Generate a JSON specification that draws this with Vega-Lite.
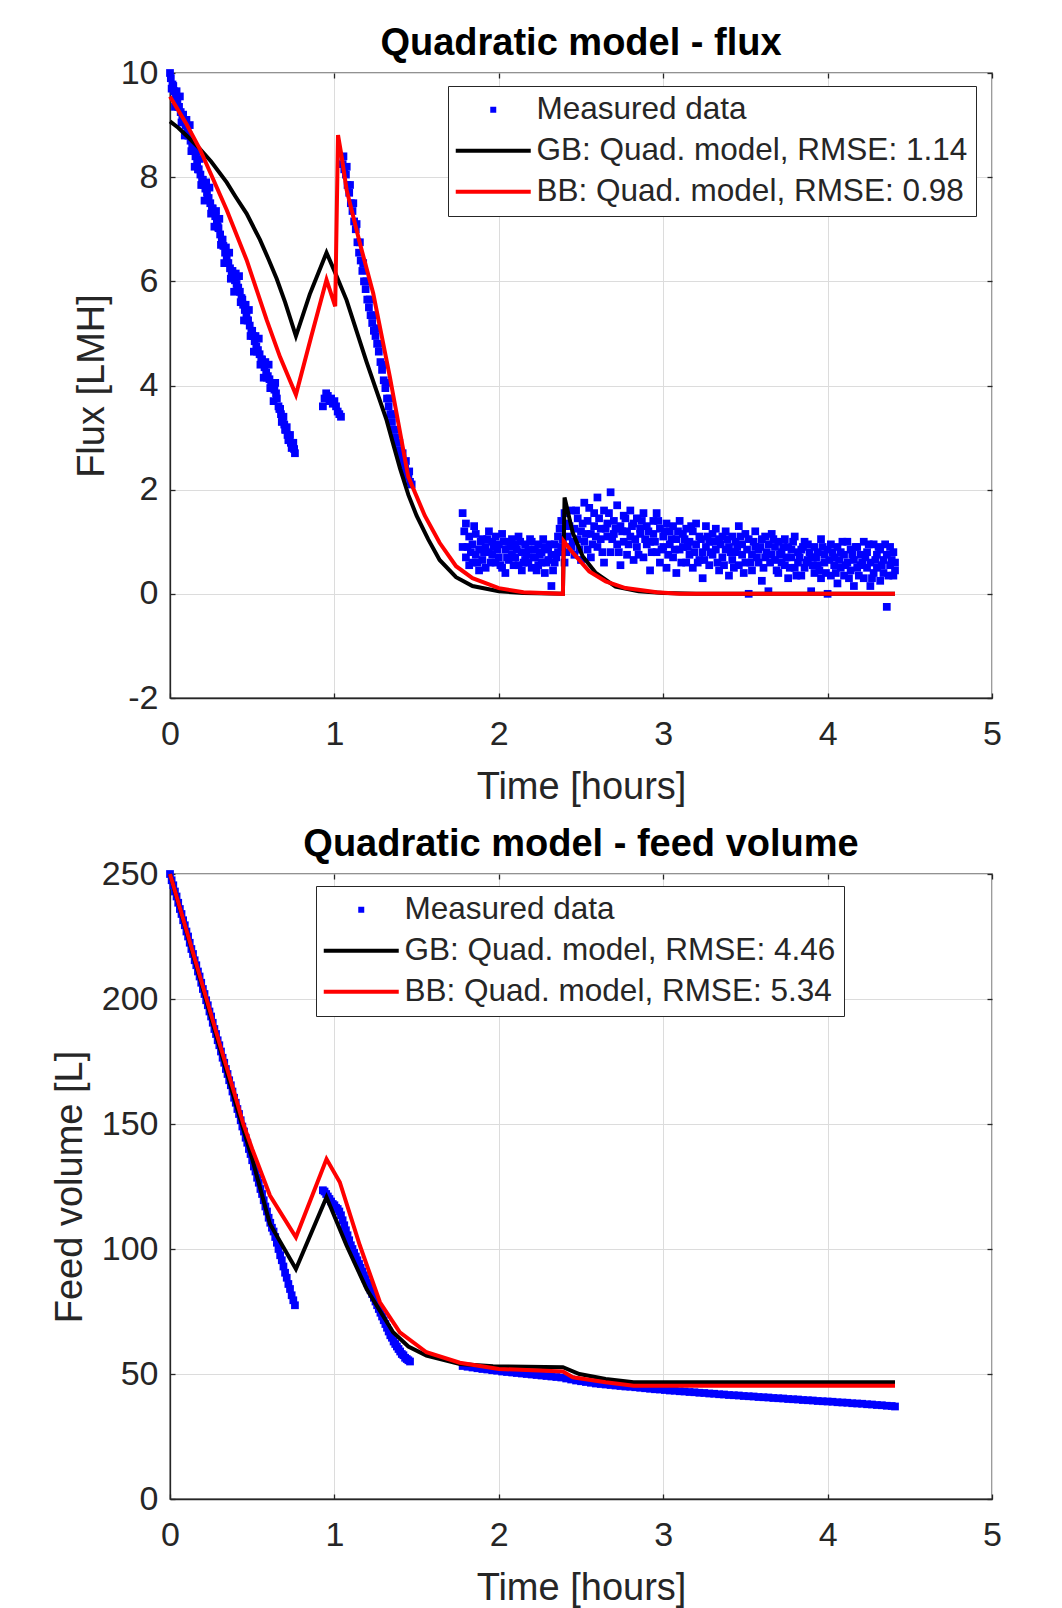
{
"$schema": "https://vega.github.io/schema/vega-lite/v6.json",
"padding": {"left": 50, "top": 24, "right": 50, "bottom": 0},
"autosize": {"type": "pad"},
"spacing": 18,
"config": {
  "font": "Liberation Sans",
  "view": {"stroke": "#262626", "strokeWidth": 1.3},
  "axis": {"labelFont": "Liberation Sans", "labelFontSize": 34, "labelColor": "#262626", "titleFont": "Liberation Sans", "titleFontSize": 38, "titleFontWeight": "normal", "titleColor": "#262626", "domainColor": "#262626", "domainWidth": 1.3, "tickColor": "#262626", "tickSize": -5, "tickWidth": 1.3, "gridColor": "#dcdcdc", "gridWidth": 1, "labelFlush": false, "labelExpr": "'' + datum.value"},
  "title": {"font": "Liberation Sans", "fontSize": 38, "fontWeight": "bold", "color": "#000000", "anchor": "middle", "offset": -7},
  "legend": {"labelFont": "Liberation Sans", "labelFontSize": 31.5, "labelColor": "#262626", "strokeColor": "#262626", "fillColor": "#ffffff", "padding": 8, "symbolSize": 5625, "labelOffset": 27.5, "symbolOffset": 21.5, "rowPadding": 8, "labelLimit": 1000}
},
"datasets": {
"flux_meas": [
{"t":0.00,"v":10.0},{"t":0.01,"v":9.7},{"t":0.02,"v":9.75},{"t":0.03,"v":9.35},{"t":0.04,"v":9.65},{"t":0.05,"v":9.35},{"t":0.06,"v":9.55},{"t":0.07,"v":9.05},{"t":0.08,"v":9.2},{"t":0.09,"v":8.8},
{"t":0.10,"v":9.1},{"t":0.11,"v":8.8},{"t":0.12,"v":9.0},{"t":0.13,"v":8.5},{"t":0.14,"v":8.6},{"t":0.15,"v":8.2},{"t":0.16,"v":8.5},{"t":0.17,"v":8.15},{"t":0.18,"v":8.35},{"t":0.19,"v":7.85},
{"t":0.20,"v":7.95},{"t":0.21,"v":7.55},{"t":0.22,"v":7.9},{"t":0.23,"v":7.6},{"t":0.24,"v":7.8},{"t":0.25,"v":7.3},{"t":0.26,"v":7.4},{"t":0.27,"v":7.05},{"t":0.28,"v":7.35},{"t":0.29,"v":7.05},
{"t":0.30,"v":7.2},{"t":0.31,"v":6.7},{"t":0.32,"v":6.8},{"t":0.33,"v":6.35},{"t":0.34,"v":6.65},{"t":0.35,"v":6.35},{"t":0.36,"v":6.55},{"t":0.37,"v":6.05},{"t":0.38,"v":6.2},{"t":0.39,"v":5.8},
{"t":0.40,"v":6.15},{"t":0.41,"v":5.85},{"t":0.42,"v":6.1},{"t":0.43,"v":5.6},{"t":0.44,"v":5.65},{"t":0.45,"v":5.25},{"t":0.46,"v":5.55},{"t":0.47,"v":5.25},{"t":0.48,"v":5.45},{"t":0.49,"v":4.95},
{"t":0.50,"v":5.05},{"t":0.51,"v":4.65},{"t":0.52,"v":4.95},{"t":0.53,"v":4.65},{"t":0.54,"v":4.9},{"t":0.55,"v":4.4},{"t":0.56,"v":4.5},{"t":0.57,"v":4.15},{"t":0.58,"v":4.45},{"t":0.59,"v":4.15},
{"t":0.60,"v":4.4},{"t":0.61,"v":3.95},{"t":0.62,"v":4.05},{"t":0.63,"v":3.7},{"t":0.64,"v":4.05},{"t":0.65,"v":3.75},{"t":0.66,"v":3.6},{"t":0.67,"v":3.55},{"t":0.68,"v":3.3},{"t":0.69,"v":3.4},
{"t":0.70,"v":3.15},{"t":0.71,"v":3.2},{"t":0.72,"v":2.95},{"t":0.73,"v":3.05},{"t":0.74,"v":2.8},{"t":0.75,"v":2.9},{"t":0.76,"v":2.7},
{"t":0.005,"v":9.9},{"t":0.015,"v":9.78},{"t":0.025,"v":9.65},{"t":0.035,"v":9.55},{"t":0.045,"v":9.45},{"t":0.055,"v":9.35},{"t":0.065,"v":9.25},{"t":0.075,"v":9.18},{"t":0.085,"v":9.1},{"t":0.095,"v":9.0},
{"t":0.105,"v":8.9},{"t":0.115,"v":8.8},{"t":0.125,"v":8.7},{"t":0.135,"v":8.6},{"t":0.145,"v":8.5},{"t":0.155,"v":8.4},{"t":0.165,"v":8.28},{"t":0.175,"v":8.15},{"t":0.185,"v":8.05},{"t":0.195,"v":7.95},
{"t":0.205,"v":7.85},{"t":0.215,"v":7.78},{"t":0.225,"v":7.7},{"t":0.235,"v":7.6},{"t":0.245,"v":7.5},{"t":0.255,"v":7.4},{"t":0.265,"v":7.32},{"t":0.275,"v":7.25},{"t":0.285,"v":7.15},{"t":0.295,"v":7.02},
{"t":0.305,"v":6.9},{"t":0.315,"v":6.8},{"t":0.325,"v":6.68},{"t":0.335,"v":6.55},{"t":0.345,"v":6.45},{"t":0.355,"v":6.35},{"t":0.365,"v":6.25},{"t":0.375,"v":6.18},{"t":0.385,"v":6.1},{"t":0.395,"v":6.02},
{"t":0.405,"v":5.95},{"t":0.415,"v":5.88},{"t":0.425,"v":5.8},{"t":0.435,"v":5.68},{"t":0.445,"v":5.55},{"t":0.455,"v":5.45},{"t":0.465,"v":5.35},{"t":0.475,"v":5.25},{"t":0.485,"v":5.15},{"t":0.495,"v":5.05},
{"t":0.505,"v":4.95},{"t":0.515,"v":4.85},{"t":0.525,"v":4.75},{"t":0.535,"v":4.68},{"t":0.545,"v":4.6},{"t":0.555,"v":4.5},{"t":0.565,"v":4.42},{"t":0.575,"v":4.35},{"t":0.585,"v":4.25},{"t":0.595,"v":4.18},
{"t":0.605,"v":4.12},{"t":0.615,"v":4.05},{"t":0.625,"v":3.98},{"t":0.635,"v":3.92},{"t":0.645,"v":3.85},{"t":0.665,"v":3.55},{"t":0.675,"v":3.45},{"t":0.685,"v":3.35},{"t":0.695,"v":3.25},{"t":0.705,"v":3.15},
{"t":0.715,"v":3.05},{"t":0.725,"v":2.98},{"t":0.735,"v":2.9},{"t":0.745,"v":2.82},{"t":0.755,"v":2.78},
{"t":0.93,"v":3.6},{"t":0.94,"v":3.75},{"t":0.95,"v":3.85},{"t":0.96,"v":3.8},{"t":0.97,"v":3.7},{"t":0.98,"v":3.75},{"t":0.99,"v":3.65},{"t":1.00,"v":3.7},{"t":1.01,"v":3.6},{"t":1.02,"v":3.5},{"t":1.03,"v":3.45},{"t":1.04,"v":3.4},
{"t":1.05,"v":8.25},{"t":1.06,"v":8.15},{"t":1.07,"v":8.05},{"t":1.08,"v":7.85},{"t":1.09,"v":7.7},{"t":1.10,"v":7.5},{"t":1.11,"v":7.35},{"t":1.12,"v":7.15},{"t":1.13,"v":7.0},{"t":1.14,"v":6.75},
{"t":1.15,"v":6.55},{"t":1.16,"v":6.4},{"t":1.17,"v":6.2},{"t":1.18,"v":6.0},{"t":1.19,"v":5.85},{"t":1.20,"v":5.65},{"t":1.21,"v":5.5},{"t":1.22,"v":5.35},{"t":1.23,"v":5.2},{"t":1.24,"v":5.05},
{"t":1.25,"v":4.95},{"t":1.26,"v":4.8},{"t":1.27,"v":4.65},{"t":1.28,"v":4.45},{"t":1.29,"v":4.3},{"t":1.30,"v":4.1},{"t":1.31,"v":3.95},{"t":1.32,"v":3.75},{"t":1.33,"v":3.6},{"t":1.34,"v":3.45},
{"t":1.35,"v":3.3},{"t":1.36,"v":3.15},{"t":1.37,"v":3.0},{"t":1.38,"v":2.9},{"t":1.39,"v":2.75},{"t":1.40,"v":2.65},{"t":1.41,"v":2.55},{"t":1.42,"v":2.5},{"t":1.43,"v":2.4},{"t":1.44,"v":2.3},{"t":1.45,"v":2.25},{"t":1.46,"v":2.15},{"t":1.47,"v":2.1},
{"t":1.055,"v":8.4},{"t":1.075,"v":8.2},{"t":1.095,"v":7.85},{"t":1.115,"v":7.5},{"t":1.135,"v":7.1},{"t":1.155,"v":6.75},{"t":1.175,"v":6.35},{"t":1.195,"v":6.0},{"t":1.215,"v":5.65},{"t":1.235,"v":5.35},
{"t":1.255,"v":5.1},{"t":1.275,"v":4.8},{"t":1.295,"v":4.4},{"t":1.315,"v":4.05},{"t":1.335,"v":3.75},{"t":1.355,"v":3.45},{"t":1.375,"v":3.15},{"t":1.395,"v":2.9},{"t":1.415,"v":2.7},{"t":1.435,"v":2.55},{"t":1.455,"v":2.35},
{"t":1.78,"v":1.55},{"t":1.78,"v":0.9},{"t":1.80,"v":1.35},{"t":1.80,"v":0.7},{"t":1.82,"v":1.1},{"t":1.82,"v":0.55},{"t":1.84,"v":0.95},{"t":1.84,"v":0.6},{"t":1.86,"v":1.15},{"t":1.86,"v":0.75},
{"t":1.88,"v":0.85},{"t":1.88,"v":0.45},{"t":1.90,"v":1.05},{"t":1.90,"v":0.65},{"t":1.92,"v":0.9},{"t":1.92,"v":0.5},{"t":1.94,"v":1.2},{"t":1.94,"v":0.8},{"t":1.96,"v":0.75},{"t":1.96,"v":1.0},
{"t":1.98,"v":1.1},{"t":1.98,"v":0.6},{"t":2.00,"v":0.95},{"t":2.00,"v":0.7},{"t":2.02,"v":1.15},{"t":2.02,"v":0.5},{"t":2.04,"v":0.85},{"t":2.04,"v":0.4},{"t":2.06,"v":1.0},{"t":2.06,"v":0.65},
{"t":2.08,"v":1.05},{"t":2.08,"v":0.75},{"t":2.10,"v":0.7},{"t":2.10,"v":0.95},{"t":2.12,"v":1.1},{"t":2.12,"v":0.55},{"t":2.14,"v":0.8},{"t":2.14,"v":0.45},{"t":2.16,"v":0.95},{"t":2.16,"v":0.65},
{"t":2.18,"v":0.6},{"t":2.18,"v":0.85},{"t":2.20,"v":1.0},{"t":2.20,"v":0.5},{"t":2.22,"v":0.85},{"t":2.22,"v":0.7},{"t":2.24,"v":0.55},{"t":2.24,"v":0.95},{"t":2.26,"v":0.8},{"t":2.26,"v":0.6},
{"t":2.28,"v":0.9},{"t":2.28,"v":0.4},{"t":2.30,"v":0.65},{"t":2.30,"v":0.85},{"t":2.32,"v":0.75},{"t":2.32,"v":0.15},{"t":2.34,"v":0.95},{"t":2.34,"v":0.6},{"t":2.36,"v":1.1},{"t":2.36,"v":0.8},
{"t":2.38,"v":1.4},{"t":2.38,"v":0.9},{"t":2.40,"v":1.55},{"t":2.40,"v":0.6},{"t":2.42,"v":1.35},{"t":2.42,"v":1.1},{"t":2.44,"v":1.6},{"t":2.44,"v":0.9},{"t":2.46,"v":1.25},{"t":2.46,"v":0.75},
{"t":2.48,"v":1.45},{"t":2.48,"v":1.05},{"t":2.50,"v":1.2},{"t":2.50,"v":0.65},{"t":2.52,"v":1.75},{"t":2.52,"v":1.0},{"t":2.54,"v":1.4},{"t":2.54,"v":0.85},{"t":2.56,"v":1.15},{"t":2.56,"v":0.7},
{"t":2.58,"v":1.55},{"t":2.58,"v":1.3},{"t":2.60,"v":1.85},{"t":2.60,"v":0.9},{"t":2.62,"v":1.25},{"t":2.62,"v":1.05},{"t":2.64,"v":1.6},{"t":2.64,"v":0.6},{"t":2.66,"v":1.1},{"t":2.66,"v":1.35},
{"t":2.68,"v":1.95},{"t":2.68,"v":0.8},{"t":2.70,"v":1.4},{"t":2.70,"v":1.15},{"t":2.72,"v":1.7},{"t":2.72,"v":0.95},{"t":2.74,"v":1.3},{"t":2.74,"v":0.55},{"t":2.76,"v":1.5},{"t":2.76,"v":1.0},
{"t":2.78,"v":1.2},{"t":2.78,"v":0.75},{"t":2.80,"v":1.6},{"t":2.80,"v":1.1},{"t":2.82,"v":1.35},{"t":2.82,"v":0.65},{"t":2.84,"v":1.45},{"t":2.84,"v":0.9},{"t":2.86,"v":1.15},{"t":2.86,"v":1.25},
{"t":2.88,"v":1.55},{"t":2.88,"v":0.7},{"t":2.90,"v":1.3},{"t":2.90,"v":0.95},{"t":2.92,"v":1.0},{"t":2.92,"v":0.45},{"t":2.94,"v":1.4},{"t":2.94,"v":1.15},{"t":2.96,"v":1.55},{"t":2.96,"v":0.8},
{"t":2.98,"v":1.25},{"t":2.98,"v":0.6},{"t":3.00,"v":1.1},{"t":3.00,"v":0.9},{"t":3.02,"v":1.35},{"t":3.02,"v":0.5},{"t":3.04,"v":0.95},{"t":3.04,"v":1.2},{"t":3.06,"v":1.3},{"t":3.06,"v":0.7},
{"t":3.08,"v":1.05},{"t":3.08,"v":0.4},{"t":3.10,"v":1.4},{"t":3.10,"v":0.85},{"t":3.12,"v":0.9},{"t":3.12,"v":1.15},{"t":3.14,"v":1.25},{"t":3.14,"v":0.6},{"t":3.16,"v":0.75},{"t":3.16,"v":1.0},
{"t":3.18,"v":1.2},{"t":3.18,"v":0.5},{"t":3.20,"v":0.95},{"t":3.20,"v":1.35},{"t":3.22,"v":1.1},{"t":3.22,"v":0.65},{"t":3.24,"v":0.8},{"t":3.24,"v":0.3},{"t":3.26,"v":1.3},{"t":3.26,"v":0.9},
{"t":3.28,"v":1.0},{"t":3.28,"v":0.55},{"t":3.30,"v":1.15},{"t":3.30,"v":0.75},{"t":3.32,"v":0.85},{"t":3.32,"v":1.25},{"t":3.34,"v":1.05},{"t":3.34,"v":0.45},{"t":3.36,"v":0.7},{"t":3.36,"v":1.1},
{"t":3.38,"v":1.2},{"t":3.38,"v":0.85},{"t":3.40,"v":0.9},{"t":3.40,"v":0.35},{"t":3.42,"v":1.1},{"t":3.42,"v":0.65},{"t":3.44,"v":0.8},{"t":3.44,"v":1.0},{"t":3.46,"v":1.3},{"t":3.46,"v":0.55},
{"t":3.48,"v":0.95},{"t":3.48,"v":0.75},{"t":3.50,"v":0.6},{"t":3.50,"v":1.15},{"t":3.52,"v":1.05},{"t":3.52,"v":0.0},{"t":3.54,"v":0.75},{"t":3.54,"v":0.45},{"t":3.56,"v":1.2},{"t":3.56,"v":0.9},
{"t":3.58,"v":0.85},{"t":3.58,"v":0.6},{"t":3.60,"v":1.05},{"t":3.60,"v":0.25},{"t":3.62,"v":0.7},{"t":3.62,"v":1.1},{"t":3.64,"v":0.95},{"t":3.64,"v":0.05},{"t":3.66,"v":1.15},{"t":3.66,"v":0.75},
{"t":3.68,"v":0.65},{"t":3.68,"v":0.9},{"t":3.70,"v":1.0},{"t":3.70,"v":0.4},{"t":3.72,"v":0.8},{"t":3.72,"v":0.6},{"t":3.74,"v":0.55},{"t":3.74,"v":1.05},{"t":3.76,"v":0.9},{"t":3.76,"v":0.3},
{"t":3.78,"v":0.7},{"t":3.78,"v":0.85},{"t":3.80,"v":1.1},{"t":3.80,"v":0.5},{"t":3.82,"v":0.6},{"t":3.82,"v":0.8},{"t":3.84,"v":0.85},{"t":3.84,"v":0.35},{"t":3.86,"v":0.5},{"t":3.86,"v":1.0},
{"t":3.88,"v":0.95},{"t":3.88,"v":0.65},{"t":3.90,"v":0.7},{"t":3.90,"v":0.05},{"t":3.92,"v":0.4},{"t":3.92,"v":0.9},{"t":3.94,"v":0.8},{"t":3.94,"v":0.55},{"t":3.96,"v":1.05},{"t":3.96,"v":0.3},
{"t":3.98,"v":0.6},{"t":3.98,"v":0.75},{"t":4.00,"v":0.85},{"t":4.00,"v":0.0},{"t":4.02,"v":0.35},{"t":4.02,"v":0.95},{"t":4.04,"v":0.7},{"t":4.04,"v":0.55},{"t":4.06,"v":0.9},{"t":4.06,"v":0.2},
{"t":4.08,"v":0.5},{"t":4.08,"v":0.8},{"t":4.10,"v":0.75},{"t":4.10,"v":0.35},{"t":4.12,"v":1.0},{"t":4.12,"v":0.6},{"t":4.14,"v":0.45},{"t":4.14,"v":0.85},{"t":4.16,"v":0.65},{"t":4.16,"v":0.15},
{"t":4.18,"v":0.9},{"t":4.18,"v":0.5},{"t":4.20,"v":0.55},{"t":4.20,"v":0.75},{"t":4.22,"v":0.3},{"t":4.22,"v":1.0},{"t":4.24,"v":0.8},{"t":4.24,"v":0.5},{"t":4.26,"v":0.6},{"t":4.26,"v":0.15},
{"t":4.28,"v":0.95},{"t":4.28,"v":0.4},{"t":4.30,"v":0.5},{"t":4.30,"v":0.75},{"t":4.32,"v":0.85},{"t":4.32,"v":0.25},{"t":4.34,"v":0.4},{"t":4.34,"v":0.65},{"t":4.36,"v":0.75},{"t":4.36,"v":-0.25},
{"t":4.38,"v":0.55},{"t":4.38,"v":0.9},{"t":4.40,"v":0.8},{"t":4.40,"v":0.35},{"t":4.41,"v":0.6},{"t":4.41,"v":0.45},
{"t":1.79,"v":1.2},{"t":1.81,"v":0.9},{"t":1.83,"v":0.8},{"t":1.85,"v":1.3},{"t":1.87,"v":0.6},{"t":1.89,"v":1.0},{"t":1.91,"v":0.8},{"t":1.93,"v":1.05},{"t":1.95,"v":0.6},{"t":1.97,"v":0.9},
{"t":1.99,"v":0.85},{"t":2.01,"v":0.55},{"t":2.03,"v":1.0},{"t":2.05,"v":0.7},{"t":2.07,"v":0.9},{"t":2.09,"v":0.55},{"t":2.11,"v":0.85},{"t":2.13,"v":1.0},{"t":2.15,"v":0.6},{"t":2.17,"v":0.75},
{"t":2.19,"v":1.05},{"t":2.21,"v":0.7},{"t":2.23,"v":0.45},{"t":2.25,"v":0.75},{"t":2.27,"v":1.05},{"t":2.29,"v":0.6},{"t":2.31,"v":0.95},{"t":2.33,"v":0.45},{"t":2.35,"v":0.7},{"t":2.37,"v":1.25},
{"t":2.39,"v":1.05},{"t":2.41,"v":0.8},{"t":2.43,"v":1.3},{"t":2.45,"v":1.0},{"t":2.47,"v":1.6},{"t":2.49,"v":0.85},{"t":2.51,"v":1.35},{"t":2.53,"v":1.15},{"t":2.55,"v":1.65},{"t":2.57,"v":0.95},
{"t":2.59,"v":1.1},{"t":2.61,"v":1.45},{"t":2.63,"v":0.8},{"t":2.65,"v":1.25},{"t":2.67,"v":1.55},{"t":2.69,"v":1.05},{"t":2.71,"v":1.25},{"t":2.73,"v":0.8},{"t":2.75,"v":1.2},{"t":2.77,"v":1.45},
{"t":2.79,"v":0.95},{"t":2.81,"v":1.3},{"t":2.83,"v":1.05},{"t":2.85,"v":0.75},{"t":2.87,"v":1.4},{"t":2.89,"v":1.05},{"t":2.91,"v":1.2},{"t":2.93,"v":0.8},{"t":2.95,"v":1.0},{"t":2.97,"v":1.4},
{"t":2.99,"v":0.85},{"t":3.01,"v":1.2},{"t":3.03,"v":0.75},{"t":3.05,"v":1.05},{"t":3.07,"v":0.85},{"t":3.09,"v":1.2},{"t":3.11,"v":0.6},{"t":3.13,"v":1.05},{"t":3.15,"v":0.9},{"t":3.17,"v":1.3},
{"t":3.19,"v":0.8},{"t":3.21,"v":0.6},{"t":3.23,"v":1.05},{"t":3.25,"v":0.65},{"t":3.27,"v":1.1},{"t":3.29,"v":0.8},{"t":3.31,"v":1.0},{"t":3.33,"v":0.6},{"t":3.35,"v":0.95},{"t":3.37,"v":0.55},
{"t":3.39,"v":1.05},{"t":3.41,"v":0.8},{"t":3.43,"v":0.5},{"t":3.45,"v":0.9},{"t":3.47,"v":1.1},{"t":3.49,"v":0.4},{"t":3.51,"v":0.85},{"t":3.53,"v":0.6},{"t":3.55,"v":1.0},{"t":3.57,"v":0.7},
{"t":3.59,"v":0.9},{"t":3.61,"v":0.5},{"t":3.63,"v":0.8},{"t":3.65,"v":0.6},{"t":3.67,"v":1.05},{"t":3.69,"v":0.45},{"t":3.71,"v":0.75},{"t":3.73,"v":0.9},{"t":3.75,"v":0.7},{"t":3.77,"v":0.5},
{"t":3.79,"v":1.0},{"t":3.81,"v":0.35},{"t":3.83,"v":0.7},{"t":3.85,"v":0.9},{"t":3.87,"v":0.6},{"t":3.89,"v":0.8},{"t":3.91,"v":0.55},{"t":3.93,"v":0.7},{"t":3.95,"v":0.45},{"t":3.97,"v":0.9},
{"t":3.99,"v":0.4},{"t":4.01,"v":0.65},{"t":4.03,"v":0.8},{"t":4.05,"v":0.4},{"t":4.07,"v":0.65},{"t":4.09,"v":1.0},{"t":4.11,"v":0.55},{"t":4.13,"v":0.3},{"t":4.15,"v":0.75},{"t":4.17,"v":0.9},
{"t":4.19,"v":0.35},{"t":4.21,"v":0.6},{"t":4.23,"v":0.7},{"t":4.25,"v":0.95},{"t":4.27,"v":0.3},{"t":4.29,"v":0.65},{"t":4.31,"v":0.9},{"t":4.33,"v":0.55},{"t":4.35,"v":0.95},{"t":4.37,"v":0.35},{"t":4.39,"v":0.65}
],
"flux_gb": [
{"t":0,"v":9.07},{"t":0.05,"v":8.95},{"t":0.1,"v":8.8},{"t":0.18,"v":8.55},{"t":0.25,"v":8.3},{"t":0.345,"v":7.9},{"t":0.4,"v":7.62},{"t":0.466,"v":7.3},{"t":0.547,"v":6.8},{"t":0.6,"v":6.42},{"t":0.649,"v":6.05},{"t":0.7,"v":5.6},{"t":0.766,"v":4.95},{"t":0.85,"v":5.75},{"t":0.952,"v":6.55},{"t":1.0,"v":6.2},{"t":1.074,"v":5.64},{"t":1.196,"v":4.45},{"t":1.317,"v":3.34},{"t":1.36,"v":2.85},{"t":1.4,"v":2.4},{"t":1.45,"v":1.9},{"t":1.5,"v":1.5},{"t":1.57,"v":1.05},{"t":1.64,"v":0.65},{"t":1.74,"v":0.32},{"t":1.84,"v":0.15},{"t":2.0,"v":0.05},{"t":2.15,"v":0.015},{"t":2.39,"v":0.0},{"t":2.4,"v":1.85},{"t":2.45,"v":1.17},{"t":2.51,"v":0.72},{"t":2.59,"v":0.4},{"t":2.71,"v":0.14},{"t":2.85,"v":0.05},{"t":3.0,"v":0.015},{"t":3.2,"v":0.0},{"t":4.41,"v":0.0}
],
"flux_bb": [
{"t":0,"v":9.55},{"t":0.1,"v":9.02},{"t":0.18,"v":8.55},{"t":0.25,"v":8.05},{"t":0.345,"v":7.37},{"t":0.466,"v":6.41},{"t":0.588,"v":5.26},{"t":0.669,"v":4.55},{"t":0.766,"v":3.82},{"t":0.86,"v":4.95},{"t":0.952,"v":6.03},{"t":1.005,"v":5.52},{"t":1.022,"v":8.81},{"t":1.044,"v":8.4},{"t":1.074,"v":7.76},{"t":1.155,"v":6.73},{"t":1.236,"v":5.77},{"t":1.337,"v":4.17},{"t":1.449,"v":2.25},{"t":1.55,"v":1.5},{"t":1.64,"v":0.98},{"t":1.74,"v":0.53},{"t":1.84,"v":0.3},{"t":2.0,"v":0.11},{"t":2.15,"v":0.03},{"t":2.39,"v":0.0},{"t":2.395,"v":1.01},{"t":2.45,"v":0.79},{"t":2.55,"v":0.43},{"t":2.65,"v":0.24},{"t":2.77,"v":0.11},{"t":2.96,"v":0.03},{"t":3.1,"v":0.0},{"t":4.41,"v":0.0}
],
"vol_meas": [
{"t":0.00,"v":250},{"t":0.01,"v":247.5},{"t":0.02,"v":245.5},{"t":0.03,"v":243},{"t":0.04,"v":241},{"t":0.05,"v":238.5},{"t":0.06,"v":236},{"t":0.07,"v":234},{"t":0.08,"v":231.5},{"t":0.09,"v":229.5},
{"t":0.10,"v":227},{"t":0.11,"v":225},{"t":0.12,"v":222.5},{"t":0.13,"v":220},{"t":0.14,"v":218},{"t":0.15,"v":215.5},{"t":0.16,"v":213.5},{"t":0.17,"v":211},{"t":0.18,"v":209},{"t":0.19,"v":206.5},
{"t":0.20,"v":204},{"t":0.21,"v":202},{"t":0.22,"v":199.5},{"t":0.23,"v":197.5},{"t":0.24,"v":195},{"t":0.25,"v":193},{"t":0.26,"v":190.5},{"t":0.27,"v":188},{"t":0.28,"v":186},{"t":0.29,"v":183.5},
{"t":0.30,"v":181.5},{"t":0.31,"v":179},{"t":0.32,"v":176.5},{"t":0.33,"v":174.5},{"t":0.34,"v":172},{"t":0.35,"v":170},{"t":0.36,"v":167.5},{"t":0.37,"v":165.5},{"t":0.38,"v":163},{"t":0.39,"v":160.5},
{"t":0.40,"v":158.5},{"t":0.41,"v":156},{"t":0.42,"v":154},{"t":0.43,"v":151.5},{"t":0.44,"v":149},{"t":0.45,"v":147},{"t":0.46,"v":144.5},{"t":0.47,"v":142.5},{"t":0.48,"v":140},{"t":0.49,"v":138},
{"t":0.50,"v":135.5},{"t":0.51,"v":133},{"t":0.52,"v":131},{"t":0.53,"v":128.5},{"t":0.54,"v":126.5},{"t":0.55,"v":124},{"t":0.56,"v":122},{"t":0.57,"v":119.5},{"t":0.58,"v":117},{"t":0.59,"v":115},
{"t":0.60,"v":112.5},{"t":0.61,"v":110.5},{"t":0.62,"v":108.5},{"t":0.63,"v":107},{"t":0.64,"v":104.8},{"t":0.65,"v":102.5},{"t":0.66,"v":100},{"t":0.67,"v":97.5},{"t":0.68,"v":95.5},{"t":0.69,"v":93},
{"t":0.70,"v":90.5},{"t":0.71,"v":88.5},{"t":0.72,"v":86},{"t":0.73,"v":84},{"t":0.74,"v":81.5},{"t":0.75,"v":79.5},{"t":0.76,"v":77.5},
{"t":0.93,"v":123.5},{"t":0.94,"v":123},{"t":0.95,"v":122},{"t":0.96,"v":121},{"t":0.97,"v":120},{"t":0.98,"v":119},{"t":0.99,"v":118},{"t":1.00,"v":117.5},{"t":1.01,"v":116.5},{"t":1.02,"v":116},
{"t":1.03,"v":115},{"t":1.04,"v":113.5},{"t":1.05,"v":111.5},{"t":1.06,"v":109.5},{"t":1.07,"v":107.5},{"t":1.08,"v":105.5},{"t":1.09,"v":103.5},{"t":1.10,"v":101.5},{"t":1.11,"v":100},{"t":1.12,"v":98.5},
{"t":1.13,"v":97},{"t":1.14,"v":95.5},{"t":1.15,"v":94},{"t":1.16,"v":92.5},{"t":1.17,"v":91},{"t":1.18,"v":89.5},{"t":1.19,"v":88},{"t":1.20,"v":86.5},{"t":1.21,"v":85},{"t":1.22,"v":83.5},
{"t":1.23,"v":82},{"t":1.24,"v":80.5},{"t":1.25,"v":79},{"t":1.26,"v":77.5},{"t":1.27,"v":76},{"t":1.28,"v":74.5},{"t":1.29,"v":73},{"t":1.30,"v":71.5},{"t":1.31,"v":70},{"t":1.32,"v":68.5},
{"t":1.33,"v":67},{"t":1.34,"v":65.5},{"t":1.35,"v":64.5},{"t":1.36,"v":63},{"t":1.37,"v":62},{"t":1.38,"v":61},{"t":1.39,"v":60},{"t":1.40,"v":59},{"t":1.41,"v":58},{"t":1.42,"v":57.5},
{"t":1.43,"v":56.5},{"t":1.44,"v":56},{"t":1.45,"v":55.5},{"t":1.46,"v":55},
{"t":1.78,"v":53.2},{"t":1.81,"v":52.9},{"t":1.84,"v":52.6},{"t":1.87,"v":52.3},{"t":1.90,"v":52.0},{"t":1.93,"v":51.8},{"t":1.96,"v":51.5},{"t":1.99,"v":51.3},{"t":2.02,"v":51.0},{"t":2.05,"v":50.8},
{"t":2.08,"v":50.6},{"t":2.11,"v":50.4},{"t":2.14,"v":50.2},{"t":2.17,"v":50.0},{"t":2.20,"v":49.8},{"t":2.23,"v":49.6},{"t":2.26,"v":49.4},{"t":2.29,"v":49.2},{"t":2.32,"v":49.0},{"t":2.35,"v":48.8},
{"t":2.38,"v":48.6},{"t":2.41,"v":48.2},{"t":2.44,"v":47.8},{"t":2.47,"v":47.4},{"t":2.50,"v":47.1},{"t":2.53,"v":46.8},{"t":2.56,"v":46.5},{"t":2.59,"v":46.2},{"t":2.62,"v":46.0},{"t":2.65,"v":45.8},
{"t":2.68,"v":45.6},{"t":2.71,"v":45.4},{"t":2.74,"v":45.2},{"t":2.77,"v":45.0},{"t":2.80,"v":44.9},{"t":2.83,"v":44.7},{"t":2.86,"v":44.5},{"t":2.89,"v":44.3},{"t":2.92,"v":44.1},{"t":2.95,"v":43.9},
{"t":2.98,"v":43.8},{"t":3.01,"v":43.6},{"t":3.04,"v":43.4},{"t":3.07,"v":43.3},{"t":3.10,"v":43.1},{"t":3.13,"v":43.0},{"t":3.16,"v":42.8},{"t":3.19,"v":42.7},{"t":3.22,"v":42.5},{"t":3.25,"v":42.4},
{"t":3.28,"v":42.2},{"t":3.31,"v":42.1},{"t":3.34,"v":41.9},{"t":3.37,"v":41.8},{"t":3.40,"v":41.6},{"t":3.43,"v":41.5},{"t":3.46,"v":41.4},{"t":3.49,"v":41.2},{"t":3.52,"v":41.1},{"t":3.55,"v":41.0},
{"t":3.58,"v":40.8},{"t":3.61,"v":40.7},{"t":3.64,"v":40.6},{"t":3.67,"v":40.4},{"t":3.70,"v":40.3},{"t":3.73,"v":40.2},{"t":3.76,"v":40.0},{"t":3.79,"v":39.9},{"t":3.82,"v":39.8},{"t":3.85,"v":39.6},
{"t":3.88,"v":39.5},{"t":3.91,"v":39.4},{"t":3.94,"v":39.2},{"t":3.97,"v":39.1},{"t":4.00,"v":39.0},{"t":4.03,"v":38.9},{"t":4.06,"v":38.7},{"t":4.09,"v":38.6},{"t":4.12,"v":38.5},{"t":4.15,"v":38.3},
{"t":4.18,"v":38.2},{"t":4.21,"v":38.1},{"t":4.24,"v":37.9},{"t":4.27,"v":37.8},{"t":4.30,"v":37.6},{"t":4.33,"v":37.5},{"t":4.36,"v":37.3},{"t":4.39,"v":37.2},{"t":4.41,"v":37.0}
],
"vol_gb": [
{"t":0,"v":250},{"t":0.1,"v":227},{"t":0.2,"v":204},{"t":0.3,"v":181},{"t":0.4,"v":158},{"t":0.5,"v":136},{"t":0.608,"v":110},{"t":0.766,"v":92},{"t":0.952,"v":120.7},{"t":1.074,"v":101.4},{"t":1.196,"v":84},{"t":1.357,"v":66.7},{"t":1.45,"v":61},{"t":1.56,"v":57.4},{"t":1.763,"v":54},{"t":1.965,"v":53.1},{"t":2.39,"v":52.7},{"t":2.49,"v":50},{"t":2.65,"v":48},{"t":2.82,"v":46.7},{"t":4.41,"v":46.7}
],
"vol_bb": [
{"t":0,"v":250},{"t":0.1,"v":227.5},{"t":0.2,"v":205},{"t":0.3,"v":182.5},{"t":0.4,"v":160.5},{"t":0.446,"v":150},{"t":0.5,"v":140},{"t":0.608,"v":121.4},{"t":0.766,"v":104.7},{"t":0.952,"v":136},{"t":1.033,"v":126.7},{"t":1.155,"v":101.4},{"t":1.277,"v":78.7},{"t":1.398,"v":66.7},{"t":1.56,"v":58.7},{"t":1.763,"v":54.5},{"t":2.0,"v":52},{"t":2.39,"v":51},{"t":2.45,"v":48.7},{"t":2.65,"v":46.7},{"t":2.82,"v":45.3},{"t":4.41,"v":45.3}
]
},
"resolve": {"scale": {"color": "independent"}, "legend": {"color": "independent"}},
"vconcat": [
{
  "width": 822, "height": 625,
  "title": {"text": "Quadratic model - flux"},
  "resolve": {"axis": {"x": "independent", "y": "independent"}},
  "layer": [
    {"data": {"name": "flux_meas"}, "mark": {"type": "square", "size": 60, "opacity": 1, "filled": true},
     "encoding": {
        "x": {"field": "t", "type": "quantitative", "scale": {"domain": [0, 5], "nice": false}, "axis": {"title": "Time [hours]", "values": [0,1,2,3,4,5], "labelPadding": 24, "titlePadding": 17}},
        "y": {"field": "v", "type": "quantitative", "scale": {"domain": [-2, 10], "nice": false, "zero": false}, "axis": {"title": "Flux [LMH]", "values": [-2,0,2,4,6,8,10], "labelPadding": 17, "titlePadding": 9}},
        "color": {"datum": "Measured data", "type": "nominal",
        "scale": {"domain": ["Measured data", "GB: Quad. model, RMSE: 1.14", "BB: Quad. model, RMSE: 0.98"], "range": ["#0000ff", "#000000", "#ff0000"]},
        "legend": {"title": null, "orient": "none", "legendX": 278, "legendY": 13,
          "encoding": {"symbols": {
            "shape": {"value": {"expr": "datum.index === 0 ? 'square' : 'stroke'"}},
            "size": {"value": {"expr": "datum.index === 0 ? 36 : 5625"}},
            "strokeWidth": {"value": {"expr": "datum.index === 0 ? 0 : 4"}},
            "fill": {"value": {"expr": "datum.index === 0 ? '#0000ff' : 'transparent'"}},
            "stroke": {"value": {"expr": "datum.index === 1 ? '#000000' : (datum.index === 2 ? '#ff0000' : 'transparent')"}},
            "opacity": {"value": 1}}}}}}},
    {"data": {"name": "flux_gb"}, "mark": {"type": "line", "strokeWidth": 4},
     "encoding": {"x": {"field": "t", "type": "quantitative", "scale": {"domain": [0, 5], "nice": false}, "axis": null}, "y": {"field": "v", "type": "quantitative", "scale": {"domain": [-2, 10], "nice": false, "zero": false}, "axis": null}, "color": {"datum": "GB: Quad. model, RMSE: 1.14", "type": "nominal"}}},
    {"data": {"name": "flux_bb"}, "mark": {"type": "line", "strokeWidth": 4},
     "encoding": {"x": {"field": "t", "type": "quantitative", "scale": {"domain": [0, 5], "nice": false}, "axis": null}, "y": {"field": "v", "type": "quantitative", "scale": {"domain": [-2, 10], "nice": false, "zero": false}, "axis": null}, "color": {"datum": "BB: Quad. model, RMSE: 0.98", "type": "nominal"}}},
    {"data": {"name": "flux_bb"}, "mark": {"type": "line", "strokeWidth": 0, "opacity": 0},
     "encoding": {"x": {"field": "t", "type": "quantitative", "scale": {"domain": [0, 5], "nice": false}, "axis": {"orient": "top", "values": [0,1,2,3,4,5], "labels": false, "title": null, "grid": false, "domain": false}}, "y": {"field": "v", "type": "quantitative", "scale": {"domain": [-2, 10], "nice": false, "zero": false}, "axis": {"orient": "right", "values": [-2,0,2,4,6,8,10], "labels": false, "title": null, "grid": false, "domain": false}}}}
  ]
},
{
  "width": 822, "height": 625,
  "title": {"text": "Quadratic model - feed volume"},
  "resolve": {"axis": {"x": "independent", "y": "independent"}},
  "layer": [
    {"data": {"name": "vol_meas"}, "mark": {"type": "square", "size": 60, "opacity": 1, "filled": true},
     "encoding": {
        "x": {"field": "t", "type": "quantitative", "scale": {"domain": [0, 5], "nice": false}, "axis": {"title": "Time [hours]", "values": [0,1,2,3,4,5], "labelPadding": 24, "titlePadding": 17}},
        "y": {"field": "v", "type": "quantitative", "scale": {"domain": [0, 250], "nice": false}, "axis": {"title": "Feed volume [L]", "values": [0,50,100,150,200,250], "labelPadding": 17, "titlePadding": 12}},
        "color": {"datum": "Measured data", "type": "nominal",
        "scale": {"domain": ["Measured data", "GB: Quad. model, RMSE: 4.46", "BB: Quad. model, RMSE: 5.34"], "range": ["#0000ff", "#000000", "#ff0000"]},
        "legend": {"title": null, "orient": "none", "legendX": 146, "legendY": 12,
          "encoding": {"symbols": {
            "shape": {"value": {"expr": "datum.index === 0 ? 'square' : 'stroke'"}},
            "size": {"value": {"expr": "datum.index === 0 ? 36 : 5625"}},
            "strokeWidth": {"value": {"expr": "datum.index === 0 ? 0 : 4"}},
            "fill": {"value": {"expr": "datum.index === 0 ? '#0000ff' : 'transparent'"}},
            "stroke": {"value": {"expr": "datum.index === 1 ? '#000000' : (datum.index === 2 ? '#ff0000' : 'transparent')"}},
            "opacity": {"value": 1}}}}}}},
    {"data": {"name": "vol_gb"}, "mark": {"type": "line", "strokeWidth": 4},
     "encoding": {"x": {"field": "t", "type": "quantitative", "scale": {"domain": [0, 5], "nice": false}, "axis": null}, "y": {"field": "v", "type": "quantitative", "scale": {"domain": [0, 250], "nice": false}, "axis": null}, "color": {"datum": "GB: Quad. model, RMSE: 4.46", "type": "nominal"}}},
    {"data": {"name": "vol_bb"}, "mark": {"type": "line", "strokeWidth": 4},
     "encoding": {"x": {"field": "t", "type": "quantitative", "scale": {"domain": [0, 5], "nice": false}, "axis": null}, "y": {"field": "v", "type": "quantitative", "scale": {"domain": [0, 250], "nice": false}, "axis": null}, "color": {"datum": "BB: Quad. model, RMSE: 5.34", "type": "nominal"}}},
    {"data": {"name": "vol_bb"}, "mark": {"type": "line", "strokeWidth": 0, "opacity": 0},
     "encoding": {"x": {"field": "t", "type": "quantitative", "scale": {"domain": [0, 5], "nice": false}, "axis": {"orient": "top", "values": [0,1,2,3,4,5], "labels": false, "title": null, "grid": false, "domain": false}}, "y": {"field": "v", "type": "quantitative", "scale": {"domain": [0, 250], "nice": false}, "axis": {"orient": "right", "values": [0,50,100,150,200,250], "labels": false, "title": null, "grid": false, "domain": false}}}}
  ]
}
]
}
